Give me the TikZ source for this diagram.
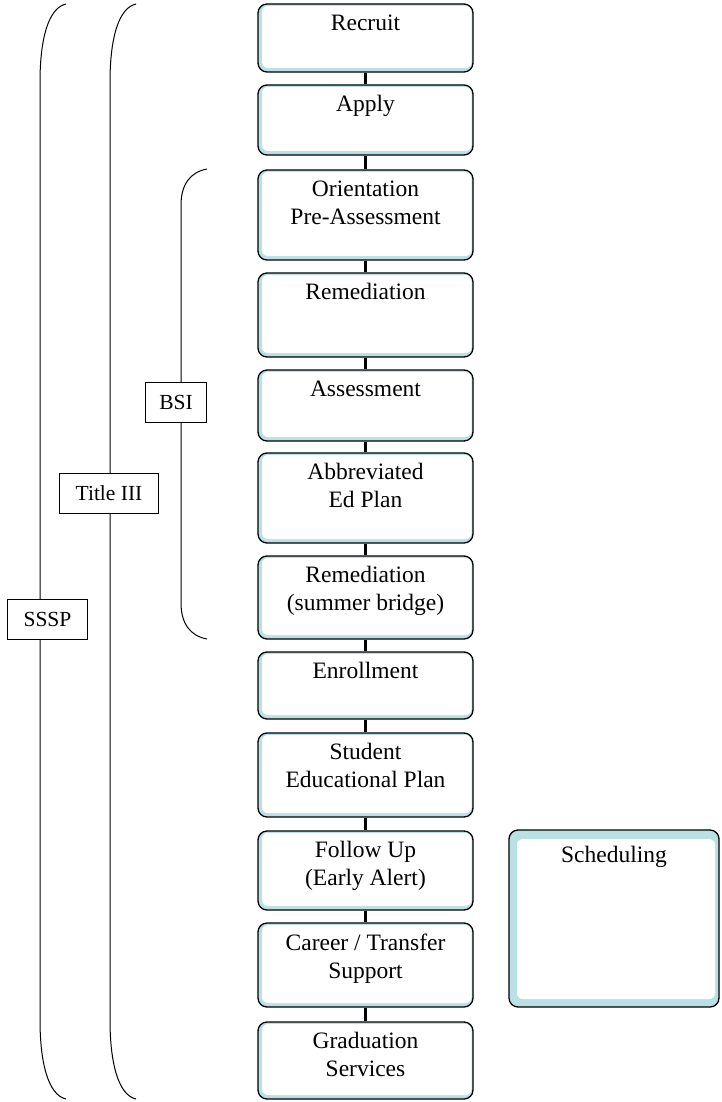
\documentclass[tikz,border=0pt]{standalone}
\usepackage{fontspec}
\setmainfont{Liberation Serif}
\usetikzlibrary{positioning}
\definecolor{boxblue}{RGB}{185,224,227}
\newcommand\boxfont{\fontsize{23.5}{28}\selectfont}
\newcommand\tagfont{\fontsize{21.5}{26}\selectfont}

\begin{document}
\begin{tikzpicture}[x=1pt, y=-1pt,
	stepbox/.style={draw, line width=1.3, rounded corners=9, fill=boxblue,
	minimum width=215, minimum height=#1, inner sep=0,
	path picture={\fill[white, rounded corners=6] ([xshift=4, yshift=4]path picture bounding box.south west)
	rectangle ([xshift=-1.5, yshift=-2]path picture bounding box.north east);}},
	steptext/.style={anchor=north, align=center, inner sep=0, yshift=-11, font=\boxfont},
	tag/.style={draw, line width=0.9, fill=white, inner xsep=14, inner ysep=0,
	minimum height=40, font=\tagfont},
	brace/.style={line width=1},
	link/.style={line width=3.5}]
\useasboundingbox (0,0) rectangle (721,1102);

% braces
\draw[brace] (66,4) .. controls (48,8) and (40,40) .. (40,82) -- (40,1020)
	.. controls (40,1062) and (48,1095) .. (66,1099);
\draw[brace] (136,4) .. controls (118,8) and (110,40) .. (110,82) -- (110,1020)
	.. controls (110,1062) and (118,1095) .. (136,1099);
\draw[brace] (207,169) .. controls (190,172) and (181,185) .. (181,205) -- (181,603)
	.. controls (181,623) and (190,636) .. (207,639);
\node[tag] (bsi) at (176,402) {BSI};
\node[tag, inner xsep=16] (title) at (109,493) {Title III};
\node[tag, inner xsep=16] (sssp) at (47.5,619) {SSSP};

% steps
\node[stepbox=68, label={[steptext]north:Recruit}] (recruit) at (365.5,38) {};
\node[stepbox=70, label={[steptext]north:Apply}] (apply) at (365.5,120) {};
\node[stepbox=90, label={[steptext]north:Orientation\\Pre-Assessment}] (orient) at (365.5,215) {};
\node[stepbox=84, label={[steptext]north:Remediation}] (remed) at (365.5,315) {};
\node[stepbox=71, label={[steptext]north:Assessment}] (assess) at (365.5,405.5) {};
\node[stepbox=90, label={[steptext]north:Abbreviated\\Ed Plan}] (abbrev) at (365.5,498) {};
\node[stepbox=83, label={[steptext]north:Remediation\\(summer bridge)}] (bridge) at (365.5,597.5) {};
\node[stepbox=67, label={[steptext]north:Enrollment}] (enroll) at (365.5,685.5) {};
\node[stepbox=84, label={[steptext]north:Student\\Educational Plan}] (edplan) at (365.5,775) {};
\node[stepbox=79, label={[steptext]north:Follow Up\\(Early Alert)}] (follow) at (365.5,870.5) {};
\node[stepbox=84, label={[steptext]north:Career / Transfer\\Support}] (career) at (365.5,965) {};
\node[stepbox=77, label={[steptext]north:Graduation\\Services}] (grad) at (365.5,1060.5) {};

\node[stepbox=177, minimum width=210,
	path picture={\fill[white, rounded corners=6] ([xshift=8, yshift=8]path picture bounding box.south west)
	rectangle ([xshift=-4, yshift=-9]path picture bounding box.north east);},
	label={[steptext, yshift=-6]north:Scheduling}] (sched) at (614,918.5) {};

\foreach \a/\b in {recruit/apply, apply/orient, orient/remed, remed/assess,
	assess/abbrev, abbrev/bridge, bridge/enroll, enroll/edplan, edplan/follow,
	follow/career, career/grad}
	\draw[link] (\a) -- (\b);
\end{tikzpicture}
\end{document}
